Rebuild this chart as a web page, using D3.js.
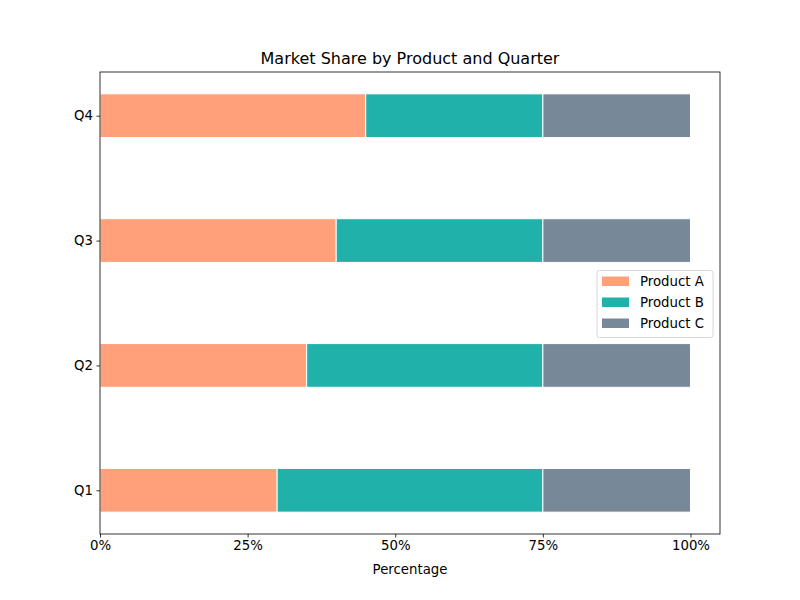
<!DOCTYPE html>
<html>
<head>
<meta charset="utf-8">
<script src="https://cdn.jsdelivr.net/npm/d3@7"></script>
<style>
body { margin: 0; background: #fff; }
text { font-family: "DejaVu Sans", sans-serif; }
</style>
</head>
<body>
<script>
// data
var quarters = ["Q1", "Q2", "Q3", "Q4"];
var products = ["Product A", "Product B", "Product C"];
var productA = [30, 35, 40, 45];
var productB = [45, 40, 35, 30];
var productC = [25, 25, 25, 25];
var xTicks = [0, 25, 50, 75, 100];
var colors = ["#FFA07A", "#20B2AA", "#778899"];

var width = 800, height = 600;
var plotLeft = 100, plotRight = 720, plotTop = 72, plotBottom = 534;

var svg = d3.select("body").append("svg")
    .attr("width", width)
    .attr("height", height);

var x = d3.scaleLinear().domain([0, 105]).range([plotLeft, plotRight]);
var y = d3.scaleLinear().domain([-0.35, 3.35]).range([plotBottom, plotTop]);
var barH = y(0) - y(0.35);

// stack the series
var rows = quarters.map(function(q, i) {
    return {q: q, A: productA[i], B: productB[i], C: productC[i]};
});
var stack = d3.stack().keys(["A", "B", "C"])(rows);

svg.selectAll("g.layer")
    .data(stack)
    .enter().append("g")
    .attr("fill", function(d, i) { return colors[i]; })
    .selectAll("rect")
    .data(function(d) { return d; })
    .enter().append("rect")
    .attr("x", function(d) { return x(d[0]); })
    .attr("width", function(d) { return x(d[1]) - x(d[0]); })
    .attr("y", function(d, i) { return y(i) - barH / 2; })
    .attr("height", barH)
    .attr("stroke", "#fff")
    .attr("stroke-width", 1);

// axes
var xAxis = d3.axisBottom(x).tickValues(xTicks)
    .tickFormat(function(d) { return d + "%"; })
    .tickSize(3.5).tickPadding(3.5);
var gx = svg.append("g").attr("transform", "translate(0," + plotBottom + ")").call(xAxis);

var yAxis = d3.axisLeft(y).tickValues([0, 1, 2, 3])
    .tickFormat(function(d) { return quarters[d]; })
    .tickSize(3.5).tickPadding(3.5);
var gy = svg.append("g").attr("transform", "translate(" + plotLeft + ",0)").call(yAxis);

[gx, gy].forEach(function(g) {
    g.select(".domain").remove();
    g.selectAll("text").attr("font-size", 13.3).attr("fill", "#000")
        .style("font-family", "DejaVu Sans");
    g.selectAll("line").attr("stroke", "#000").attr("stroke-width", 0.8);
});

// frame
svg.append("rect")
    .attr("x", plotLeft).attr("y", plotTop)
    .attr("width", plotRight - plotLeft).attr("height", plotBottom - plotTop)
    .attr("fill", "none").attr("stroke", "#000").attr("stroke-width", 0.8);

svg.append("text")
    .attr("x", (plotLeft + plotRight) / 2).attr("y", 64)
    .attr("text-anchor", "middle").attr("font-size", 16)
    .text("Market Share by Product and Quarter");

svg.append("text")
    .attr("x", (plotLeft + plotRight) / 2).attr("y", 574)
    .attr("text-anchor", "middle").attr("font-size", 13.3)
    .text("Percentage");

// legend
var lg = svg.append("g");
lg.append("rect")
    .attr("x", 597).attr("y", 270.5)
    .attr("width", 116).attr("height", 67)
    .attr("rx", 2.5)
    .attr("fill", "#fff").attr("fill-opacity", 0.8)
    .attr("stroke", "#ccc").attr("stroke-width", 0.8);
products.forEach(function(p, i) {
    var cy = 281 + i * 21;
    lg.append("rect")
        .attr("x", 602).attr("y", cy - 4.5)
        .attr("width", 27).attr("height", 9.5)
        .attr("fill", colors[i]);
    lg.append("text")
        .attr("x", 640).attr("y", cy + 4.8)
        .attr("font-size", 13.3)
        .text(p);
});
</script>
</body>
</html>
